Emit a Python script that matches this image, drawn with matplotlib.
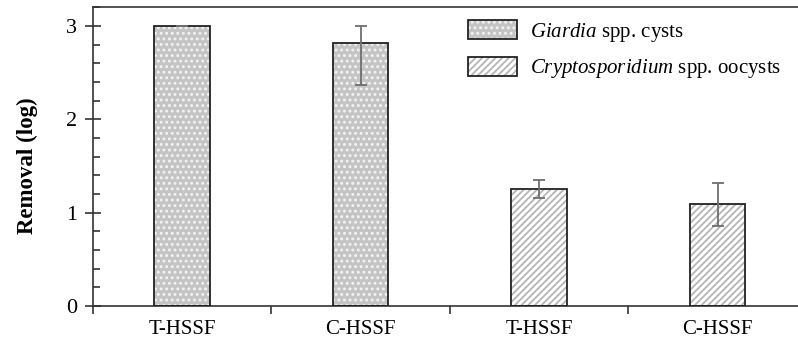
import matplotlib
matplotlib.use("Agg")
import matplotlib.pyplot as plt
from matplotlib.patches import Patch
from matplotlib.ticker import MultipleLocator
from matplotlib.legend_handler import HandlerTuple

# Data
categories = ["T-HSSF", "C-HSSF", "T-HSSF", "C-HSSF"]
series = ["Giardia spp. cysts", "Cryptosporidium spp. oocysts"]
values = [3.00, 2.82, 1.25, 1.09]
err_low = [0.0, 0.455, 0.095, 0.23]
err_high = [0.0, 0.18, 0.095, 0.225]
series_of_bar = [0, 0, 1, 1]

plt.rcParams['font.family'] = ['Liberation Serif', 'DejaVu Serif']
plt.rcParams['hatch.linewidth'] = 1.3
plt.rcParams['mathtext.fontset'] = 'custom'
plt.rcParams['mathtext.rm'] = 'Liberation Serif'
plt.rcParams['mathtext.it'] = 'Liberation Serif:italic'

fig = plt.figure(figsize=(7.98, 3.49), dpi=100)
ax = fig.add_axes([0.1162, 0.1232, 1.0113 - 0.1162, 0.979 - 0.1232])

styles = [
    dict(facecolor="#c4c4c4", edgecolor="#f4f4f4", hatch="..."),
    dict(facecolor="white", edgecolor="#b5b5b5", hatch="/////"),
]

x = [i + 0.5 for i in range(len(categories))]
width = 0.31
for xi, v, s in zip(x, values, series_of_bar):
    ax.bar(xi, v, width, linewidth=0, zorder=2, **styles[s])
    ax.bar(xi, v, width, facecolor="none", edgecolor="#222222", linewidth=1.3, zorder=3)

ax.errorbar(x, values, yerr=[err_low, err_high], fmt="none", ecolor="#6e6e6e",
            elinewidth=1.3, capsize=4, capthick=1.3, zorder=4)

ax.set_xlim(0, 4)
ax.set_ylim(0, 3.2)
ax.set_xticks([0, 1, 2, 3, 4])
ax.set_xticklabels([])
ax.set_xticks(x, minor=True)
ax.set_xticklabels(categories, minor=True, fontsize=15)
ax.tick_params(axis="x", which="major", direction="out", length=6, width=1.2, color="#333333")
ax.tick_params(axis="x", which="minor", length=0, pad=10)

ax.set_yticks([0, 1, 2, 3])
ax.set_yticklabels(["0", "1", "2", "3"], fontsize=16)
ax.yaxis.set_minor_locator(MultipleLocator(0.2))
ax.tick_params(axis="y", which="major", direction="inout", length=11, width=1.2, color="#333333", pad=6)
ax.tick_params(axis="y", which="minor", direction="in", length=5, width=1.2, color="#333333")

for sp in ax.spines.values():
    sp.set_linewidth(1.2)
    sp.set_color("#333333")

ax.set_ylabel("Removal (log)", fontsize=16.5, fontweight="bold")
ax.yaxis.set_label_coords(-0.077, 0.469)

handles = []
for s in range(2):
    h = (Patch(linewidth=0, **styles[s]), Patch(facecolor="none", edgecolor="#222222", linewidth=1.3))
    handles.append(h)
labels = [r"$\it{Giardia}$ spp. cysts", r"$\it{Cryptosporidium}$ spp. oocysts"]
leg = fig.legend(handles, labels, handler_map={tuple: HandlerTuple(ndivide=1, pad=0)},
                 loc="upper left", bbox_to_anchor=(468 / 798, 1 - 20 / 349), frameon=False,
                 fontsize=15, handlelength=2.35, handleheight=1.05, handletextpad=0.62,
                 labelspacing=0.62, borderpad=0, borderaxespad=0)

fig.savefig("out.png", dpi=100)
